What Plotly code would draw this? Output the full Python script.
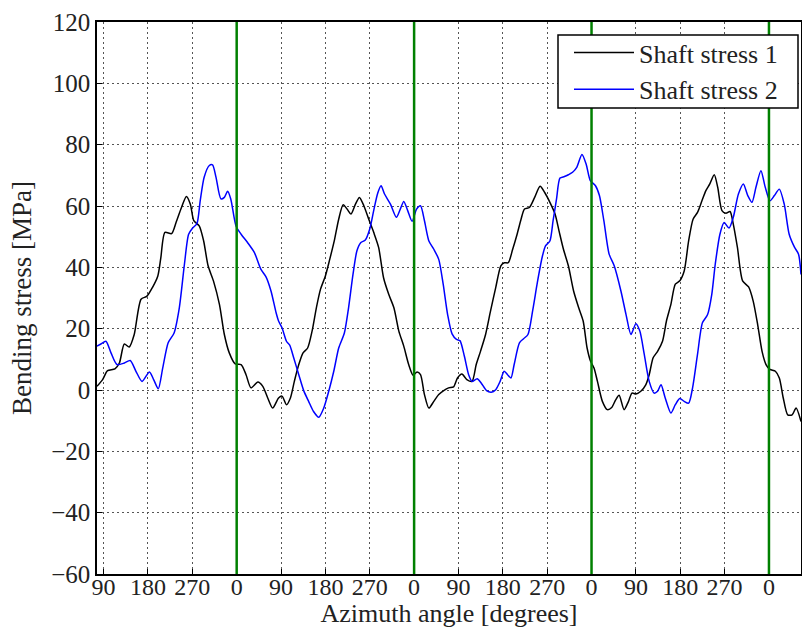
import plotly.graph_objects as go

# ---- data (cumulative azimuth angle in degrees, bending stress in MPa) ----
angle_1 = [76.5, 88, 98, 113, 122, 132, 142, 152, 166, 178, 189, 200, 206, 214.5, 228, 237, 248, 258, 266, 273,
           284, 293, 302, 313, 325, 335, 345, 357, 369, 379, 389, 403, 413, 423, 433, 445, 452, 461, 469, 477,
           486, 494.7, 504, 513, 521.7, 530, 540, 548.8, 558, 567, 576, 584, 592, 601, 609, 618, 628, 638, 648, 658,
           668.5, 679, 689, 699, 709, 718, 726, 733, 741, 750, 760, 770, 780, 790, 800, 808, 817, 827, 837.5, 846,
           854.7, 865, 875, 885.6, 896, 903, 911, 920, 929, 937, 944, 954, 964.6, 975.6, 985, 995.5, 1006, 1014, 1023, 1033,
           1043.6, 1054, 1063, 1071, 1078, 1085, 1092, 1102, 1112, 1121, 1129, 1136, 1146, 1155, 1162, 1170, 1180, 1190, 1197, 1205,
           1214, 1224, 1232, 1241, 1250, 1259, 1268, 1277, 1286, 1295, 1304, 1312, 1320, 1329, 1336, 1344.6, 1352.7, 1361, 1367.6, 1376,
           1386.5, 1398.7, 1408, 1417, 1426, 1434, 1442, 1453, 1461, 1469, 1478, 1487, 1495, 1505]
stress_1 = [1.2, 3.4, 6.3, 6.9, 8.8, 15, 14, 18, 29.6, 30.6, 33.4, 37.2, 43, 51.4, 51, 54.6, 59.5, 63.1, 60.6, 55.2,
            53.5, 48.6, 40.5, 35.5, 27.9, 18.1, 12.1, 8.5, 8.3, 5, 0.7, 2.6, 1.2, -2.6, -5.9, -2.6, -2, -4.8, -2.6, 2.8,
            8.3, 12.1, 13.7, 19.2, 26.8, 32.8, 37.2, 42.6, 48.6, 55.7, 60.4, 59, 57.4, 60.6, 62.8, 60.1, 55.7, 51.4, 46.5, 36.6,
            31.2, 26.8, 19.2, 14.3, 8.3, 4.8, 5.9, 5, -1.5, -5.9, -3.7, -1.5, -0.2, 0.7, 1.0, 3.9, 5.2, 3.4, 2.8, 8.3,
            12.6, 18.1, 25.7, 33.4, 40.5, 41.5, 41.5, 45.9, 50.8, 55.7, 59, 59.5, 62.8, 66.4, 64.4, 61.2, 57.4, 51.9, 45.9, 40.5,
            32.3, 26.8, 22.5, 13.7, 9.4, 7.2, 2.8, -3.7, -6.4, -5.7, -3.2, -1.7, -6.4, -3.7, -1, -1.3, -0.4, 1.7, 5, 10.5,
            12.6, 15.9, 22.5, 27.9, 34.5, 35.6, 38.8, 48.6, 55.7, 57.9, 61.7, 65, 67.2, 70.2, 66.1, 58.5, 57.6, 58.2, 54.1, 46.5,
            35.6, 33.6, 29, 21.4, 12.6, 8.3, 6.7, 6.1, 3.9, -2.6, -8.1, -8.1, -5.9, -10.3]

angle_2 = [76.5, 84.6, 94.7, 105, 117, 132, 144, 155.6, 168, 183, 191.5, 201, 210, 221, 233, 243.6, 254, 262.5, 270.6, 279.4,
           286, 294, 304.5, 311, 318, 328, 335, 341.6, 348, 358.6, 369, 382, 396, 409, 419.5, 429.6, 440, 445, 452, 461,
           467.6, 475.7, 486, 496, 506, 516, 526.5, 536.6, 546.8, 557, 567, 578.5, 587, 596, 604, 612, 621, 630, 638, 646,
           653, 660, 672, 684, 692, 699, 707, 716, 725, 733, 741, 750, 760, 770, 779, 788, 797, 806, 813, 822,
           830.6, 837.5, 848, 856, 867, 876.6, 885.6, 894.5, 902.7, 909.6, 916.5, 923, 933.7, 942.6, 951, 961, 970, 979.7, 986.6, 995.5,
           1002, 1009, 1016, 1025, 1033, 1041.5, 1050, 1060.5, 1069, 1077.5, 1088, 1096, 1105, 1115.7, 1126, 1139.6, 1150, 1160, 1170, 1178,
           1187, 1197, 1207, 1214, 1221, 1229.5, 1241, 1250, 1259, 1268, 1277, 1285, 1295, 1305, 1315.5, 1324, 1331, 1340.5, 1349, 1359,
           1367.6, 1378, 1388, 1397, 1405.5, 1413.6, 1423.7, 1432.5, 1442, 1451, 1461, 1471, 1481, 1492, 1500, 1505]
stress_2 = [14.3, 15, 15.9, 12.1, 8.3, 8.8, 9.6, 6.1, 2.8, 5.9, 3.4, 0.4, 7.2, 15.4, 18.6, 26.8, 41, 50.8, 52.8, 54.3,
            61.7, 69.4, 73.2, 73.4, 69.4, 62.3, 62.8, 64.8, 62.3, 53.5, 50.8, 48.1, 44.8, 39.4, 36.9, 32.3, 25.2, 22.5, 20.3, 15.9,
            14.6, 10.5, 5, -0.2, -3.7, -7, -8.9, -5.9, -0.4, 6.1, 13.7, 18.6, 26.8, 37.7, 45.4, 48.1, 48.9, 52.5, 58.5, 64.1,
            66.6, 63.9, 60.6, 56.3, 59, 61.5, 58.5, 55, 59, 60.1, 55.2, 48.6, 45.9, 42.6, 34.5, 24.6, 18.3, 16.5, 16.1, 11,
            5, 2.8, 3.7, 2.3, -0.2, -0.7, 0.1, 2.8, 6.1, 5, 3.9, 8.3, 15.4, 16.8, 18.1, 26.3, 35, 43.2, 47, 48.6,
            55.2, 62.3, 69.1, 69.6, 70.2, 71, 72.6, 76.8, 73.7, 68.3, 66.6, 63.4, 55.2, 44.3, 40.5, 32.3, 24.6, 18.1, 21.6, 19.2,
            11.6, 2.8, -1, -0.4, 1.7, -2.6, -7.5, -4.8, -2.8, -3.7, -4.3, 0.7, 11.6, 21.9, 24.6, 31.2, 41, 50.8, 54.6, 52.8,
            56.3, 63.9, 67.2, 63.4, 61.2, 66.1, 71.5, 66.1, 61.7, 63.4, 65.5, 60.6, 50.8, 46.5, 44.3, 37.7]

revolution_marks = [360, 720, 1080, 1440]
tick_angles = [90, 180, 270, 360, 450, 540, 630, 720, 810, 900, 990, 1080, 1170, 1260, 1350, 1440]
tick_labels = ["90", "180", "270", "0", "90", "180", "270", "0", "90", "180", "270", "0", "90", "180", "270", "0"]
y_ticks = [-60, -40, -20, 0, 20, 40, 60, 80, 100, 120]

FONT = "Liberation Serif"
TXT = "#222"
GRIDDASH = "2px,3px"

fig = go.Figure()
fig.add_trace(go.Scatter(x=angle_1, y=stress_1, mode="lines", name="Shaft stress 1",
                         line=dict(color="black", width=1.5, shape="spline", smoothing=0.7)))
fig.add_trace(go.Scatter(x=angle_2, y=stress_2, mode="lines", name="Shaft stress 2",
                         line=dict(color="#0000ff", width=1.5, shape="spline", smoothing=0.7)))

for m in revolution_marks:
    fig.add_vline(x=m, line=dict(color="green", width=2.5), layer="above")

# legend frame (white box with black border, drawn above the data)
fig.add_shape(type="rect", xref="paper", yref="paper",
              x0=(558 - 97) / 704, x1=(798 - 97) / 704,
              y0=1 - (108 - 22) / 552, y1=1 - (35 - 22) / 552,
              line=dict(color="black", width=1.5), fillcolor="white", layer="above")

fig.update_layout(
    width=802, height=628,
    margin=dict(l=97, r=1, t=22, b=54),
    paper_bgcolor="white", plot_bgcolor="white",
    font=dict(family=FONT, size=24, color=TXT),
    showlegend=True,
    legend=dict(x=(569 - 97) / 704, y=1 - (29 - 22) / 552, xanchor="left", yanchor="top",
                bgcolor="rgba(0,0,0,0)", borderwidth=0,
                font=dict(family=FONT, size=26, color=TXT),
                itemwidth=60, tracegroupgap=0),
)
fig.update_xaxes(range=[76.6, 1505], tickmode="array", tickvals=tick_angles, ticktext=tick_labels,
                 showgrid=True, gridcolor="#555", griddash=GRIDDASH, gridwidth=1,
                 showline=True, linecolor="black", linewidth=1.5, mirror=True,
                 ticks="inside", ticklen=5, tickcolor="black", automargin=False,
                 ticklabelstandoff=-10,
                 tickfont=dict(family=FONT, size=24, color=TXT),
                 title=dict(text="Azimuth angle [degrees]", font=dict(family=FONT, size=26, color=TXT), standoff=14),
                 zeroline=False)
fig.update_yaxes(range=[-60, 120], tickmode="array", tickvals=y_ticks,
                 showgrid=True, gridcolor="#555", griddash=GRIDDASH, gridwidth=1,
                 showline=True, linecolor="black", linewidth=1.5, mirror=True,
                 ticks="inside", ticklen=5, tickcolor="black", automargin=False,
                 tickfont=dict(family=FONT, size=25, color=TXT),
                 title=dict(text="Bending stress [MPa]", font=dict(family=FONT, size=27, color=TXT), standoff=12),
                 zeroline=False)

fig.write_html("out.html")
